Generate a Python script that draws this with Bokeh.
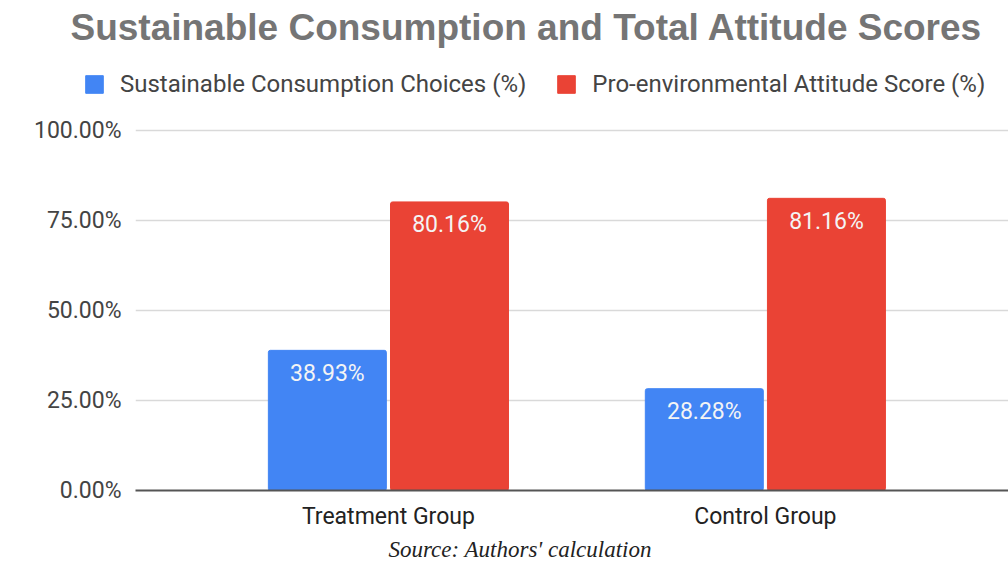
from bokeh.plotting import figure
from bokeh.layouts import column
from bokeh.models import (ColumnDataSource, Range1d, FixedTicker, PrintfTickFormatter,
                          Legend, LegendItem, LabelSet, Label, Title)
from bokeh.core.properties import value
from bokeh.embed import file_html
from bokeh.resources import INLINE

# ---- data ----
categories = ["Treatment Group", "Control Group"]
series_names = ["Sustainable Consumption Choices (%)", "Pro-environmental Attitude Score (%)"]
sustainable_choices = [38.93, 28.28]
attitude_score = [80.16, 81.16]
y_ticks = [0, 25, 50, 75, 100]
chart_title = "Sustainable Consumption and Total Attitude Scores"
source_note = "Source: Authors' calculation"

BLUE = "#4285F4"
RED = "#EA4335"
SANS = "Roboto"
FS = "23px"

W = 1008
TOP_H = 110
MAIN_H = 564 - TOP_H

xpos = [i + 1 for i in range(len(categories))]
off = 0.162
bw = 0.313

src_b = ColumnDataSource(dict(x=[v - off for v in xpos], top=sustainable_choices,
                              lab=[f"{v:.2f}%" for v in sustainable_choices]))
src_r = ColumnDataSource(dict(x=[v + off for v in xpos], top=attitude_score,
                              lab=[f"{v:.2f}%" for v in attitude_score]))

# ---------- header figure: title + legend ----------
head = figure(width=W, height=TOP_H, output_backend="svg", toolbar_location=None,
              x_range=Range1d(-1, 0), y_range=Range1d(0, 1),
              x_axis_location=None, y_axis_location=None, title=None,
              min_border=0, min_border_left=0, min_border_right=0,
              min_border_top=0, min_border_bottom=0)
head.frame_align = False
head.outline_line_color = None
head.xgrid.visible = False
head.ygrid.visible = False
head.background_fill_color = "white"
head.border_fill_color = "white"

head.add_layout(Label(x=526, y=TOP_H - 27, x_units="screen", y_units="screen",
                      text=chart_title, text_align="center", text_baseline="middle",
                      text_font="Liberation Sans", text_font_style="bold",
                      text_font_size="37px", text_color="#757575"))

# legend swatches use the same series (drawn outside the header's visible range)
hb = head.vbar(x="x", top="top", width=bw, source=src_b, color=BLUE, line_color=BLUE)
hr = head.vbar(x="x", top="top", width=bw, source=src_r, color=RED, line_color=RED)
legend = Legend(items=[LegendItem(label=series_names[0], renderers=[hb]),
                       LegendItem(label=series_names[1], renderers=[hr])],
                orientation="horizontal", location=(83, 12),
                border_line_color=None, background_fill_alpha=0,
                label_text_font=SANS, label_text_font_size="24px", label_text_color="#444444",
                glyph_width=22, glyph_height=22, label_standoff=15, spacing=29,
                padding=0, margin=0)
head.add_layout(legend, "center")

# ---------- main chart ----------
p = figure(width=W, height=MAIN_H, output_backend="svg", toolbar_location=None,
           x_range=Range1d(0.329, 2.645), y_range=Range1d(0, 105.56), title=None,
           min_border_left=135, min_border_right=0, min_border_top=0, min_border_bottom=74)
p.frame_align = False
p.outline_line_color = None
p.background_fill_color = "white"
p.border_fill_color = "white"

p.vbar(x="x", top="top", width=bw, source=src_b, color=BLUE, line_color=BLUE, border_radius=2)
p.vbar(x="x", top="top", width=bw, source=src_r, color=RED, line_color=RED, border_radius=2)

for s in (src_b, src_r):
    p.add_layout(LabelSet(x="x", y="top", text="lab", source=s, y_offset=-23,
                          text_align="center", text_baseline="middle",
                          text_font=value(SANS), text_font_size=value(FS),
                          text_color="#f4f4f4"))

p.xaxis.ticker = FixedTicker(ticks=xpos)
p.xaxis.major_label_overrides = {x: c for x, c in zip(xpos, categories)}
p.xaxis.major_tick_line_color = None
p.xaxis.minor_tick_line_color = None
p.xaxis.axis_line_color = "#555555"
p.xaxis.axis_line_width = 2
p.xaxis.major_label_text_font = SANS
p.xaxis.major_label_text_font_size = FS
p.xaxis.major_label_text_color = "#222222"
p.xaxis.major_label_standoff = 6
p.xgrid.grid_line_color = None

p.yaxis.ticker = FixedTicker(ticks=y_ticks)
p.yaxis.formatter = PrintfTickFormatter(format="%.2f%%")
p.yaxis.axis_line_color = None
p.yaxis.major_tick_line_color = None
p.yaxis.minor_tick_line_color = None
p.yaxis.major_label_text_font = SANS
p.yaxis.major_label_text_font_size = FS
p.yaxis.major_label_text_color = "#444444"
p.yaxis.major_label_standoff = 8
p.ygrid.grid_line_color = "#d9d9d9"
p.ygrid.grid_line_width = 1.5

cap = Title(text=source_note, align="left", offset=253, standoff=5,
            text_font="Liberation Serif", text_font_style="italic",
            text_font_size=FS, text_color="#222222")
p.add_layout(cap, "below")

layout = column(head, p, spacing=0)
open("out.html", "w").write(file_html(layout, INLINE))
